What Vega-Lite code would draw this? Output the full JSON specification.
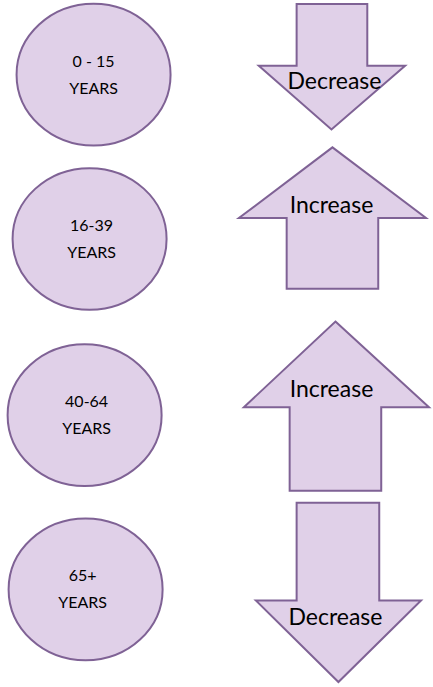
{
  "$schema": "https://vega.github.io/schema/vega-lite/v6.json",
  "width": 433,
  "height": 687,
  "padding": 0,
  "autosize": {"type": "fit", "contains": "padding"},
  "background": "white",
  "config": {"view": {"stroke": null}},
  "datasets": {
    "circles": [
      {"group": "0 - 15", "cx": 94, "cy": 72, "line1": "0 - 15", "line2": "YEARS", "tx": 94},
      {"group": "16-39", "cx": 90, "cy": 237, "line1": "16-39", "line2": "YEARS", "tx": 92},
      {"group": "40-64", "cx": 85, "cy": 414, "line1": "40-64", "line2": "YEARS", "tx": 87},
      {"group": "65+", "cx": 86, "cy": 589, "line1": "65+", "line2": "YEARS", "tx": 83}
    ],
    "arrows": [
      {"arrow": "a1", "order": 1, "x": 298, "y": 1},
      {"arrow": "a1", "order": 2, "x": 369, "y": 1},
      {"arrow": "a1", "order": 3, "x": 369, "y": 63},
      {"arrow": "a1", "order": 4, "x": 407, "y": 63},
      {"arrow": "a1", "order": 5, "x": 333, "y": 127},
      {"arrow": "a1", "order": 6, "x": 260, "y": 63},
      {"arrow": "a1", "order": 7, "x": 298, "y": 63},
      {"arrow": "a2", "order": 1, "x": 334, "y": 145},
      {"arrow": "a2", "order": 2, "x": 428, "y": 216},
      {"arrow": "a2", "order": 3, "x": 380, "y": 216},
      {"arrow": "a2", "order": 4, "x": 380, "y": 287},
      {"arrow": "a2", "order": 5, "x": 288, "y": 287},
      {"arrow": "a2", "order": 6, "x": 288, "y": 216},
      {"arrow": "a2", "order": 7, "x": 240, "y": 216},
      {"arrow": "a3", "order": 1, "x": 337, "y": 320},
      {"arrow": "a3", "order": 2, "x": 431, "y": 406},
      {"arrow": "a3", "order": 3, "x": 383, "y": 406},
      {"arrow": "a3", "order": 4, "x": 383, "y": 490},
      {"arrow": "a3", "order": 5, "x": 291, "y": 490},
      {"arrow": "a3", "order": 6, "x": 291, "y": 406},
      {"arrow": "a3", "order": 7, "x": 245, "y": 406},
      {"arrow": "a4", "order": 1, "x": 298, "y": 502},
      {"arrow": "a4", "order": 2, "x": 381, "y": 502},
      {"arrow": "a4", "order": 3, "x": 381, "y": 600},
      {"arrow": "a4", "order": 4, "x": 423, "y": 600},
      {"arrow": "a4", "order": 5, "x": 340, "y": 682},
      {"arrow": "a4", "order": 6, "x": 257, "y": 600},
      {"arrow": "a4", "order": 7, "x": 298, "y": 600}
    ],
    "labels": [
      {"label": "Decrease", "x": 336, "y": 79},
      {"label": "Increase", "x": 333, "y": 204},
      {"label": "Increase", "x": 333, "y": 389},
      {"label": "Decrease", "x": 337, "y": 618}
    ]
  },
  "layer": [
    {
      "data": {"name": "arrows"},
      "mark": {"type": "line", "interpolate": "linear-closed", "fill": "#e0d0e8", "stroke": "#7f6295", "strokeWidth": 2, "strokeJoin": "miter"},
      "encoding": {
        "x": {"field": "x", "type": "quantitative", "scale": {"domain": [0, 433], "nice": false, "zero": false}, "axis": null},
        "y": {"field": "y", "type": "quantitative", "scale": {"domain": [0, 687], "nice": false, "zero": false, "reverse": true}, "axis": null},
        "detail": {"field": "arrow"},
        "order": {"field": "order", "type": "quantitative"}
      }
    },
    {
      "data": {"name": "circles"},
      "mark": {"type": "point", "filled": true, "shape": "M -1 0 A 1 0.92 0 1 0 1 0 A 1 0.92 0 1 0 -1 0 Z", "size": 23716, "fill": "#e0d0e8", "stroke": "#7f6295", "strokeWidth": 2, "opacity": 1, "fillOpacity": 1},
      "encoding": {
        "x": {"field": "cx", "type": "quantitative", "scale": {"domain": [0, 433], "nice": false, "zero": false}, "axis": null},
        "y": {"field": "cy", "type": "quantitative", "scale": {"domain": [0, 687], "nice": false, "zero": false, "reverse": true}, "axis": null}
      }
    },
    {
      "data": {"name": "circles"},
      "mark": {"type": "text", "font": "Lato", "fontSize": 16, "color": "#000000", "dy": -13, "baseline": "middle"},
      "encoding": {
        "x": {"field": "tx", "type": "quantitative", "scale": {"domain": [0, 433], "nice": false, "zero": false}, "axis": null},
        "y": {"field": "cy", "type": "quantitative", "scale": {"domain": [0, 687], "nice": false, "zero": false, "reverse": true}, "axis": null},
        "text": {"field": "line1"}
      }
    },
    {
      "data": {"name": "circles"},
      "mark": {"type": "text", "font": "Lato", "fontSize": 16, "color": "#000000", "dy": 14, "baseline": "middle"},
      "encoding": {
        "x": {"field": "tx", "type": "quantitative", "scale": {"domain": [0, 433], "nice": false, "zero": false}, "axis": null},
        "y": {"field": "cy", "type": "quantitative", "scale": {"domain": [0, 687], "nice": false, "zero": false, "reverse": true}, "axis": null},
        "text": {"field": "line2"}
      }
    },
    {
      "data": {"name": "labels"},
      "mark": {"type": "text", "font": "Lato", "fontSize": 23, "color": "#000000", "baseline": "middle"},
      "encoding": {
        "x": {"field": "x", "type": "quantitative", "scale": {"domain": [0, 433], "nice": false, "zero": false}, "axis": null},
        "y": {"field": "y", "type": "quantitative", "scale": {"domain": [0, 687], "nice": false, "zero": false, "reverse": true}, "axis": null},
        "text": {"field": "label"}
      }
    }
  ]
}
